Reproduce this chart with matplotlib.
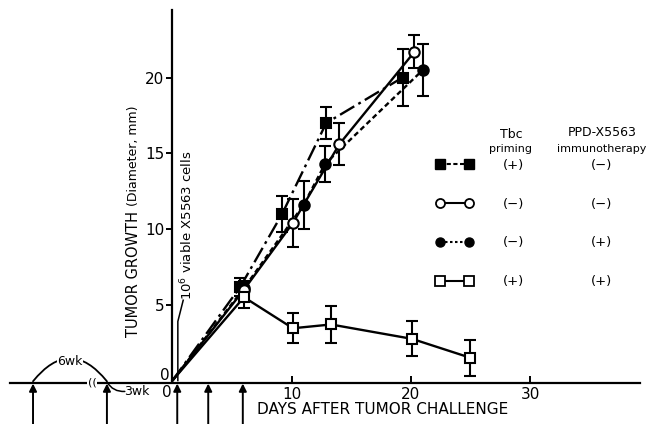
import matplotlib
matplotlib.use("Agg")
import matplotlib.pyplot as plt
from matplotlib.lines import Line2D

plt.rcParams['font.family'] = ['DejaVu Sans']

# ---------------- data ----------------
fs_x = [0, 5.7, 9.2, 12.9, 19.3]          # Tbc(+) / PPD(-)  filled squares
fs_y = [0, 6.2, 11.0, 17.0, 20.0]
fs_e = [0, 0.6, 1.2, 1.05, 1.9]

oc_x = [0, 6.0, 10.1, 14.0, 20.3]         # Tbc(-) / PPD(-)  open circles
oc_y = [0, 6.0, 10.4, 15.6, 21.7]
oc_e = [0, 0.5, 1.6, 1.4, 1.1]

fc_x = [0, 6.0, 11.0, 12.8, 21.0]         # Tbc(-) / PPD(+)  filled circles
fc_y = [0, 6.1, 11.6, 14.3, 20.5]
fc_e = [0, 0.5, 1.6, 1.2, 1.7]

os_x = [0, 6.0, 10.1, 13.3, 20.1, 25.0]   # Tbc(+) / PPD(+)  open squares
os_y = [0, 5.5, 3.45, 3.7, 2.75, 1.5]
os_e = [0, 0.7, 1.0, 1.2, 1.15, 1.2]

priming_col = ['(+)', '(\u2212)', '(\u2212)', '(+)']
immuno_col = ['(\u2212)', '(\u2212)', '(+)', '(+)']
priming_arrows = [-11.7, -5.5]
treatment_arrows = [0.4, 3.0, 5.9]
xticks = [10, 20, 30]
yticks = [5, 10, 15, 20]

# ---------------- figure ----------------
W, H = 647, 424
fig = plt.figure(figsize=(W / 100, H / 100), dpi=100)
ax = fig.add_axes([0, 0, 1, 1])
ax.set_facecolor('none')
XMIN, XMAX = -14.47, 39.81
YMIN, YMAX = -2.87, 25.12
ax.set_xlim(XMIN, XMAX)
ax.set_ylim(YMIN, YMAX)

for s in ['top', 'right']:
    ax.spines[s].set_visible(False)
ax.spines['left'].set_position(('data', 0))
ax.spines['left'].set_bounds(0, 24.45)
ax.spines['bottom'].set_position(('data', -0.17))
ax.spines['bottom'].set_bounds(-13.63, 39.2)
ax.spines['left'].set_linewidth(1.6)
ax.spines['bottom'].set_linewidth(1.6)

ax.set_yticks(yticks)
ax.set_yticklabels([str(v) for v in yticks], fontsize=11)
ax.tick_params(axis='y', direction='out', length=4, width=1.4, pad=2)
ax.set_xticks(xticks)
ax.set_xticklabels([str(v) for v in xticks], fontsize=11)
ax.tick_params(axis='x', direction='in', length=5, width=1.4, pad=3)
# zero labels (placed as in the original, off the corner)
ax.text(-0.25, 0.35, '0', ha='right', va='center', fontsize=11)
ax.text(-0.45, -0.8, '0', ha='center', va='center', fontsize=11)

lw = 1.7
ms = 7.5
def series(x, y, e, marker, mfc, ls, z):
    ax.plot(x, y, color='k', lw=lw, ls=ls, marker=marker, ms=ms, mfc=mfc,
            mec='k', mew=1.5, markevery=slice(1, None), zorder=z)
    ax.errorbar(x[1:], y[1:], yerr=e[1:], fmt='none', ecolor='k',
                elinewidth=1.5, capsize=4, capthick=1.5, zorder=z - 1)

series(fs_x, fs_y, fs_e, 's', 'k', (0, (7, 2, 1.2, 2)), 5)
series(oc_x, oc_y, oc_e, 'o', 'white', '-', 6)
series(fc_x, fc_y, fc_e, 'o', 'k', (0, (2.2, 1.4)), 5)
series(os_x, os_y, os_e, 's', 'white', '-', 6)

# ---------------- axis labels ----------------
t1 = ax.text(-3.3, 2.9, 'TUMOR GROWTH', rotation=90, ha='center', va='bottom',
             fontsize=10.5)
ax.text(17.6, -1.9, 'DAYS AFTER TUMOR CHALLENGE', ha='center', va='center',
        fontsize=11)

# challenge annotation
ax.text(1.25, 5.3, '10$^6$ viable X5563 cells', rotation=90, ha='center',
        va='bottom', fontsize=9.5)
ax.plot([0.45, 0.45, 0.9], [0.0, 3.9, 5.3], color='k', lw=1.1)

# ---------------- timeline arrows ----------------
for xa in priming_arrows + treatment_arrows:
    ax.annotate('', xy=(xa, -0.2), xytext=(xa, YMIN),
                arrowprops=dict(arrowstyle='-|>', color='k', lw=1.4,
                                mutation_scale=11, shrinkA=0, shrinkB=0))

ax.annotate('', xy=(priming_arrows[1], -0.05), xytext=(priming_arrows[0], -0.05),
            arrowprops=dict(arrowstyle='-', color='k', lw=1.3,
                            connectionstyle='arc3,rad=-0.62', shrinkA=0, shrinkB=0))
ax.text((priming_arrows[0] + priming_arrows[1]) / 2, 1.25, '6wk', ha='center',
        va='center', fontsize=9,
        bbox=dict(facecolor='white', edgecolor='none', pad=0.5))
ax.annotate('', xy=(-4.0, -0.72), xytext=(priming_arrows[1], -0.1),
            arrowprops=dict(arrowstyle='-', color='k', lw=1.1,
                            connectionstyle='arc3,rad=0.3', shrinkA=0, shrinkB=0))
ax.text(-3.0, -0.72, '3wk', ha='center', va='center', fontsize=9)
ax.text(-6.75, -0.12, '((', ha='center', va='center', fontsize=8,
        bbox=dict(facecolor='white', edgecolor='none', pad=0.2))

# ---------------- legend table ----------------
handles = [
    Line2D([], [], color='k', lw=1.5, ls=(0, (2, 1.2)), marker='s', ms=6.5, mfc='k', mec='k'),
    Line2D([], [], color='k', lw=1.5, ls='-', marker='o', ms=6.5, mfc='white', mec='k', mew=1.3),
    Line2D([], [], color='k', lw=1.5, ls=(0, (1.2, 1.2)), marker='o', ms=6.5, mfc='k', mec='k'),
    Line2D([], [], color='k', lw=1.5, ls='-', marker='s', ms=6.5, mfc='white', mec='k', mew=1.3),
]
leg = fig.legend(handles, priming_col, loc='upper left',
                 bbox_to_anchor=(436 / W, 1 - 159 / H), frameon=False,
                 numpoints=2, handlelength=2.8, handletextpad=2.3,
                 labelspacing=1.95, borderpad=0, borderaxespad=0, fontsize=9.5)

fig.canvas.draw()
r = fig.canvas.get_renderer()
for t, lab in zip(leg.get_texts(), immuno_col):
    bb = t.get_window_extent(r)
    fig.text(602 / W, (bb.y0 + bb.y1) / 2 / H, lab, ha='center', va='center',
             fontsize=9.5)

# second part of the y label, just after the first part
bb1 = t1.get_window_extent(r)
fig.text((bb1.x0 + bb1.x1) / 2 / W + 0.0005, (bb1.y1 + 5) / H, '(Diameter, mm)',
         rotation=90, ha='center', va='bottom', fontsize=9)

fig.text(511 / W, 1 - 135 / H, 'Tbc', ha='center', va='center', fontsize=9)
fig.text(511 / W, 1 - 149 / H, 'priming', ha='center', va='center', fontsize=8)
fig.text(602 / W, 1 - 132 / H, 'PPD-X5563', ha='center', va='center', fontsize=9)
fig.text(602 / W, 1 - 149 / H, 'immunotherapy', ha='center', va='center', fontsize=8)

fig.savefig('out.png', dpi=100)
